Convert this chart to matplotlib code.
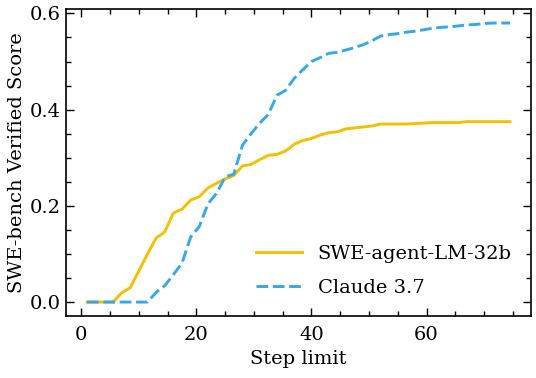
import matplotlib.pyplot as plt
from matplotlib.ticker import MultipleLocator

# Step limit grid
steps = [1, 2.5, 4, 5.5, 7, 8.5, 10, 11.5, 13, 14.5, 16, 17.5, 19, 20.5, 22, 23.5,
         25, 26.5, 28, 29.5, 31, 32.5, 34, 35.5, 37, 38.5, 40, 41.5, 43, 44.5, 46,
         47.5, 49, 50.5, 52, 53.5, 55, 56.5, 58, 59.5, 61, 62.5, 64, 65.5, 67, 68.5,
         70, 71.5, 73, 74.5]

swe_agent = [0, 0, 0, 0, 0.019, 0.03, 0.065, 0.10, 0.133, 0.146, 0.185, 0.193,
             0.212, 0.219, 0.237, 0.247, 0.256, 0.263, 0.283, 0.286, 0.296, 0.305,
             0.307, 0.314, 0.328, 0.336, 0.34, 0.347, 0.352, 0.354, 0.36, 0.362,
             0.364, 0.366, 0.37, 0.37, 0.37, 0.37, 0.371, 0.372, 0.373, 0.373,
             0.373, 0.373, 0.375, 0.375, 0.375, 0.375, 0.375, 0.375]

claude = [0, 0, 0, 0, 0, 0, 0, 0, 0.02, 0.034, 0.057, 0.081, 0.135, 0.157, 0.204,
          0.226, 0.26, 0.266, 0.326, 0.35, 0.372, 0.39, 0.43, 0.44, 0.465, 0.483,
          0.5, 0.508, 0.517, 0.519, 0.524, 0.529, 0.535, 0.543, 0.553, 0.556,
          0.558, 0.561, 0.563, 0.566, 0.569, 0.571, 0.572, 0.574, 0.576, 0.577,
          0.579, 0.58, 0.58, 0.58]

plt.rcParams['font.family'] = ['DejaVu Serif']
plt.rcParams['mathtext.fontset'] = 'dejavuserif'

fig = plt.figure(figsize=(5.36, 3.78), dpi=100)
ax = fig.add_axes([0.123, 0.164, 0.868, 0.812])

ax.plot(steps, swe_agent, color='#f2c000', lw=2.1, label='SWE-agent-LM-32b')
ax.plot(steps, claude, color='#37a7e8', lw=2.1, ls=(0, (4, 1.6)), label='Claude 3.7')

ax.set_xlabel('Step limit', fontsize=14, labelpad=4)
ax.set_ylabel('SWE-bench Verified Score', fontsize=14, labelpad=3)

ax.xaxis.set_major_locator(MultipleLocator(20))
ax.xaxis.set_minor_locator(MultipleLocator(5))
ax.yaxis.set_major_locator(MultipleLocator(0.2))
ax.yaxis.set_minor_locator(MultipleLocator(0.05))
ax.tick_params(which='both', direction='in', top=True, right=True, labelsize=14, width=1.0)
ax.tick_params(which='major', length=6)
ax.tick_params(which='minor', length=3.5)
ax.tick_params(axis='x', which='major', pad=7.5)
for s in ax.spines.values():
    s.set_linewidth(1.2)

ax.legend(loc='lower right', frameon=False, fontsize=14, handlelength=2.4,
          handletextpad=0.8, labelspacing=0.8, borderaxespad=0.6)

plt.savefig('out.png', dpi=100)
